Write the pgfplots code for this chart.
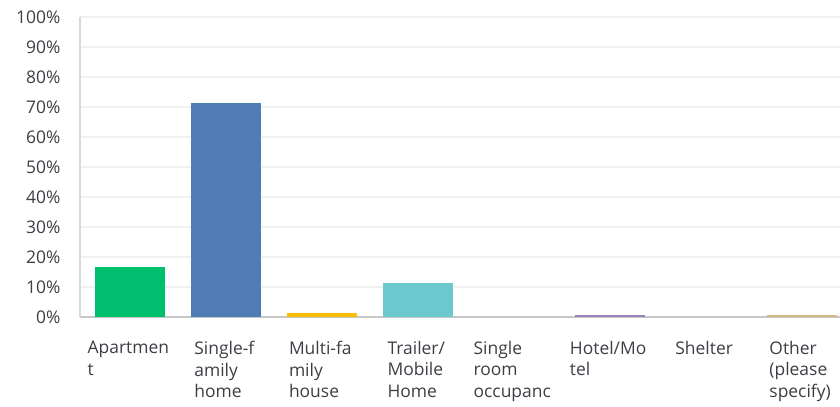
\documentclass[border=0pt]{standalone}
\usepackage{fontspec}
\setmainfont{Open Sans}
\usepackage{pgfplots}
\pgfplotsset{compat=1.18}

\definecolor{cApt}{HTML}{00BF6F}
\definecolor{cSingle}{HTML}{507CB6}
\definecolor{cMulti}{HTML}{F9BE00}
\definecolor{cTrailer}{HTML}{6BC8CD}
\definecolor{cSro}{HTML}{FF8B4F}
\definecolor{cHotel}{HTML}{9D82B8}
\definecolor{cShelter}{HTML}{DF4E5B}
\definecolor{cOther}{HTML}{CDBB82}
\definecolor{txt}{HTML}{3B3F44}

\begin{document}
\begin{tikzpicture}
\begin{axis}[
  scale only axis,
  width=760bp, height=300bp,
  ybar, bar width=70bp, bar shift=0pt,
  ymin=0, ymax=100,
  xmin=-0.52, xmax=7.4,
  ytick={0,10,...,100},
  yticklabels={0\%,10\%,20\%,30\%,40\%,50\%,60\%,70\%,80\%,90\%,100\%},
  xtick={0,...,7},
  xticklabels={Apartmen\\t, Single-f\\amily\\home, Multi-fa\\mily\\house,
    Trailer/\\Mobile\\Home, Single\\room\\occupanc, Hotel/Mo\\tel, Shelter,
    Other\\(please\\specify)},
  tick style={draw=none},
  ymajorgrids, grid style={draw=black!6, line width=1.2bp},
  axis x line*=bottom, axis y line*=left,
  x axis line style={draw=black!22, line width=1.5bp, -},
  y axis line style={draw=black!15, line width=1.5bp, -},
  tick label style={font=\fontsize{17.5}{22}\selectfont, text=txt},
  xticklabel style={align=left, anchor=north, yshift=-16bp, xshift=-1.5bp},
  yticklabel style={xshift=-16bp},
]
\addplot[fill=cApt, draw=none] coordinates {(0,16.7)};
\addplot[fill=cSingle, draw=none] coordinates {(1,71.2)};
\addplot[fill=cMulti, draw=none] coordinates {(2,1.3)};
\addplot[fill=cTrailer, draw=none] coordinates {(3,11.3)};
\addplot[fill=cSro, draw=none] coordinates {(4,0)};
\addplot[fill=cHotel, draw=none] coordinates {(5,0.7)};
\addplot[fill=cShelter, draw=none] coordinates {(6,0)};
\addplot[fill=cOther, draw=none] coordinates {(7,0.6)};
\end{axis}
\pgfresetboundingbox
\path[use as bounding box] ([shift={(-80bp,-90bp)}]current axis.south west)
  rectangle ([shift={(0bp,17bp)}]current axis.north east);
\end{tikzpicture}
\end{document}
